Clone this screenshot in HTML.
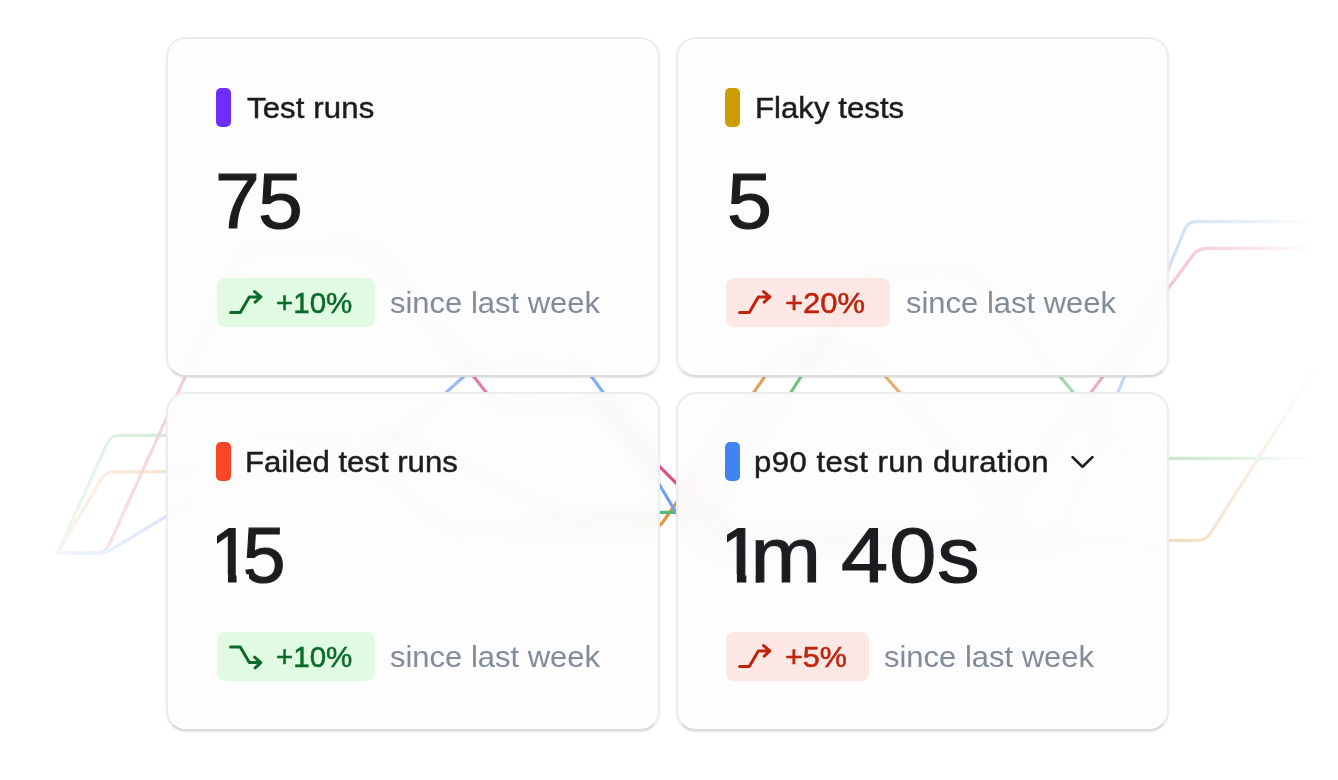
<!DOCTYPE html>
<html lang="en">
<head>
<meta charset="utf-8">
<title>Test analytics</title>
<style>
*{box-sizing:border-box;margin:0;padding:0}
html,body{width:1338px;height:780px;overflow:hidden;background:#fff}
body{position:relative;font-family:"Liberation Sans",Arial,sans-serif;color:#1a1c1e}
#bg{position:absolute;left:0;top:0;width:1338px;height:780px}
.card{position:absolute;width:494px;height:339.5px;border:2px solid #ededed;border-radius:20px;
  background:#fdfdfd;border-bottom-color:#dbdbdb;box-shadow:0 1px 1.5px rgba(0,0,0,.1)}
#glow{position:absolute;left:0;top:0;width:1338px;height:780px;filter:blur(10px);opacity:.16;clip-path:path('M186 39h454a18 18 0 0 1 18 18v299.5a18 18 0 0 1 -18 18h-454a18 18 0 0 1 -18 -18v-299.5a18 18 0 0 1 18 -18zM695.5 39h453.6a18 18 0 0 1 18 18v299.5a18 18 0 0 1 -18 18h-453.6a18 18 0 0 1 -18 -18v-299.5a18 18 0 0 1 18 -18zM186 393.5h454a18 18 0 0 1 18 18v299.5a18 18 0 0 1 -18 18h-454a18 18 0 0 1 -18 -18v-299.5a18 18 0 0 1 18 -18zM695.5 393.5h453.6a18 18 0 0 1 18 18v299.5a18 18 0 0 1 -18 18h-453.6a18 18 0 0 1 -18 -18v-299.5a18 18 0 0 1 18 -18z');pointer-events:none}
.c1{left:166px;top:37px}
.c2{left:675.5px;top:37px;width:493.6px}
.c3{left:166px;top:391.5px}
.c4{left:675.5px;top:391.5px;width:493.6px}
.pill{position:absolute;left:48.4px;top:49px;width:14.6px;height:39px;border-radius:5px}
.c2 .pill,.c4 .pill{left:48px}
.label{position:absolute;left:78px;top:51.5px;font-size:29.5px;line-height:34px;white-space:nowrap;color:#1a1c1e;-webkit-text-stroke:.45px #1a1c1e;transform:scaleX(1.055);transform-origin:0 50%;letter-spacing:.12px}
.num{position:absolute;top:118.4px;height:88px;padding-right:14px;font-size:77px;line-height:88px;white-space:pre;color:#1a1c1e;-webkit-text-stroke:1.15px #1a1c1e;transform-origin:0 70.7px}
.n15::first-letter{letter-spacing:-8.9px}
.n140::first-letter{letter-spacing:-11.5px}
.n15{-webkit-mask:linear-gradient(#000,#000) 8.5px 0/100% 63.5px no-repeat,linear-gradient(#000,#000) 18.7px 61px/8.6px 27px no-repeat,linear-gradient(#000,#000) 39.8px 61px/500px 27px no-repeat;mask:linear-gradient(#000,#000) 8.5px 0/100% 63.5px no-repeat,linear-gradient(#000,#000) 18.7px 61px/8.6px 27px no-repeat,linear-gradient(#000,#000) 39.8px 61px/500px 27px no-repeat}
.n140{-webkit-mask:linear-gradient(#000,#000) 9.5px 0/100% 63.5px no-repeat,linear-gradient(#000,#000) 18.7px 61px/8.6px 27px no-repeat,linear-gradient(#000,#000) 35.8px 61px/500px 27px no-repeat;mask:linear-gradient(#000,#000) 9.5px 0/100% 63.5px no-repeat,linear-gradient(#000,#000) 18.7px 61px/8.6px 27px no-repeat,linear-gradient(#000,#000) 35.8px 61px/500px 27px no-repeat}
.badge{position:absolute;left:49px;top:239px;height:49px;border-radius:8px}
.badge.g{background:#e1fbe2;color:#0a6a2a}
.badge.r{background:#fde8e5;color:#bf230c}
.badge svg{position:absolute;left:11px;top:8px;width:34px;height:34px;overflow:visible}
.badge .t{position:absolute;left:59px;top:7.8px;height:34px;font-size:29.5px;line-height:34px;white-space:nowrap;-webkit-text-stroke:.5px currentColor;transform-origin:0 50%}
.since{position:absolute;top:246.9px;font-size:29.5px;line-height:34px;white-space:nowrap;color:#818c98;transform:scaleX(1.05);transform-origin:0 50%;letter-spacing:0}
.c2>*,.c4>*{margin-left:-.3px}
.c3>*,.c4>*{margin-top:-.5px}
.chev{position:absolute;left:392px;top:58px;width:30px;height:22px;overflow:visible}
</style>
</head>
<body>
<svg id="bg" viewBox="0 0 1338 780">
  <defs>
    <linearGradient id="fade" x1="0" y1="0" x2="1338" y2="0" gradientUnits="userSpaceOnUse">
      <stop offset="0.0299" stop-color="#fff" stop-opacity="0"/>
      <stop offset="0.0426" stop-color="#fff" stop-opacity="0.1"/>
      <stop offset="0.0822" stop-color="#fff" stop-opacity="0.18"/>
      <stop offset="0.1420" stop-color="#fff" stop-opacity="0.3"/>
      <stop offset="0.3438" stop-color="#fff" stop-opacity="0.72"/>
      <stop offset="0.4484" stop-color="#fff" stop-opacity="0.87"/>
      <stop offset="0.5000" stop-color="#fff" stop-opacity="1"/>
      <stop offset="0.5904" stop-color="#fff" stop-opacity="0.82"/>
      <stop offset="0.6652" stop-color="#fff" stop-opacity="0.75"/>
      <stop offset="0.7922" stop-color="#fff" stop-opacity="0.55"/>
      <stop offset="0.8371" stop-color="#fff" stop-opacity="0.42"/>
      <stop offset="0.8894" stop-color="#fff" stop-opacity="0.3"/>
      <stop offset="0.9851" stop-color="#fff" stop-opacity="0"/>
    </linearGradient>
    <mask id="m" maskUnits="userSpaceOnUse" x="0" y="0" width="1338" height="780">
      <rect x="0" y="0" width="1338" height="780" fill="url(#fade)"/>
    </mask>
  </defs>
  <g mask="url(#m)" fill="none" stroke-width="3.2" stroke-linejoin="round" stroke-linecap="round">
    <path stroke="#e0913f" d="M57.7 553.0L100.8 479.7Q105.4 471.9 114.4 471.9L371.0 471.9Q380.0 471.9 386.8 477.8L438.2 523.1Q445.0 529.0 454.0 529.0L649.0 529.0Q658.0 529.0 663.2 521.6L776.8 359.4Q782.0 352.0 791.0 352.0L854.5 352.0Q863.5 352.0 869.5 358.7L1025.7 533.7Q1031.7 540.4 1040.7 540.4L1197.0 540.4Q1206.0 540.4 1210.8 532.8L1316.8 366.0"/>
    <path stroke="#5ab769" d="M57.7 553.0L107.0 443.6Q110.7 435.4 119.7 435.4L391.0 435.4Q400.0 435.4 408.1 439.3L551.9 508.5Q560.0 512.4 569.0 512.4L704.6 512.4Q713.6 512.4 718.5 504.8L864.7 277.6Q869.6 270.0 878.6 270.0L961.0 270.0Q970.0 270.0 975.8 276.9L1123.1 451.4Q1128.9 458.3 1137.9 458.3L1338.0 458.3"/>
    <path stroke="#dc4f89" d="M57.7 553.0L96.4 553.0Q105.4 553.0 109.1 544.8L239.8 255.9Q243.5 247.7 252.5 247.7L363.8 247.7Q372.8 247.7 378.4 254.8L487.4 393.9Q493.0 401.0 502.0 401.0L585.0 401.0Q594.0 401.0 600.4 407.4L723.6 530.6Q730.0 537.0 739.0 537.0L972.0 537.0Q981.0 537.0 986.4 529.8L1086.3 398.6Q1091.7 391.4 1097.1 384.2L1192.6 255.6Q1198.0 248.4 1207.0 248.4L1338.0 248.4"/>
    <path stroke="#6fa2ee" d="M57.7 553.0L96.4 553.0Q105.4 553.0 113.1 548.4L247.3 467.6Q255.0 463.0 264.0 463.0L358.8 463.0Q367.8 463.0 374.5 457.0L468.8 372.0Q475.5 366.0 484.5 366.0L574.6 366.0Q583.6 366.0 589.0 373.2L603.6 393.0Q609.0 400.2 613.6 407.9L672.6 506.8Q677.2 514.5 681.8 522.2L694.4 543.3Q699.0 551.0 708.0 551.0L1044.0 551.0Q1053.0 551.0 1056.4 542.7L1115.0 399.7Q1118.4 391.4 1121.8 383.1L1184.4 230.0Q1187.8 221.7 1196.8 221.7L1338.0 221.7"/>
  </g>
</svg>

<div class="card c1">
  <div class="pill" style="background:#6e2eff"></div>
  <div class="label" style="left:79.3px">Test runs</div>
  <div class="num" style="left:46.64px;transform:scale(1.046,1.02);letter-spacing:-1.8px">75</div>
  <div class="badge g" style="width:158px">
    <svg viewBox="0 0 34 34" fill="none" stroke="currentColor" stroke-width="3" stroke-linecap="round" stroke-linejoin="round"><path d="M2.6 26.5H12.3L21.3 11H32.4M26.6 5.6L32.8 11L27.2 16.2"/></svg>
    <span class="t">+10%</span>
  </div>
  <div class="since" style="left:222.4px">since last week</div>
</div>

<div class="card c2">
  <div class="pill" style="background:#cc9c00"></div>
  <div class="label" style="left:77.8px;letter-spacing:.04px">Flaky tests</div>
  <div class="num" style="left:49.87px;transform:scale(1.05,1.02)">5</div>
  <div class="badge r" style="width:164px">
    <svg viewBox="0 0 34 34" fill="none" stroke="currentColor" stroke-width="3" stroke-linecap="round" stroke-linejoin="round"><path d="M2.6 26.5H12.3L21.3 11H32.4M26.6 5.6L32.8 11L27.2 16.2"/></svg>
    <span class="t" style="left:58.4px;transform:scaleX(1.05)">+20%</span>
  </div>
  <div class="since" style="left:228.4px">since last week</div>
</div>

<div class="card c3">
  <div class="pill" style="background:#fa4528"></div>
  <div class="label" style="left:77.2px;letter-spacing:0">Failed test runs</div>
  <div class="num n15" style="left:40.9px;transform:scale(1,1.02)">15</div>
  <div class="badge g" style="width:158px">
    <svg viewBox="0 0 34 34" fill="none" stroke="currentColor" stroke-width="3" stroke-linecap="round" stroke-linejoin="round"><path d="M2.6 7H12.3L21.3 22.6H32.4M26.6 17.2L32.8 22.6L27.2 27.8"/></svg>
    <span class="t">+10%</span>
  </div>
  <div class="since" style="left:222.4px">since last week</div>
</div>

<div class="card c4">
  <div class="pill" style="background:#4184f3"></div>
  <div class="label" style="left:76.8px;letter-spacing:.43px">p90 test run duration</div>
  <svg class="chev" viewBox="0 0 30 22" fill="none" stroke="#1a1c1e" stroke-width="2.7" stroke-linecap="round" stroke-linejoin="round"><path d="M3.6 6.1L13.5 15.9L23.4 6.1"/></svg>
  <div class="num n140" style="left:38.73px;transform:scale(1.1,1.02);letter-spacing:.9px;word-spacing:-4.96px">1m 40s</div>
  <div class="badge r" style="width:143px">
    <svg viewBox="0 0 34 34" fill="none" stroke="currentColor" stroke-width="3" stroke-linecap="round" stroke-linejoin="round"><path d="M2.6 26.5H12.3L21.3 11H32.4M26.6 5.6L32.8 11L27.2 16.2"/></svg>
    <span class="t" style="left:58.3px;transform:scaleX(1.035)">+5%</span>
  </div>
  <div class="since" style="left:206.7px">since last week</div>
</div>
<svg id="glow" viewBox="0 0 1338 780">
  <g mask="url(#m)" fill="none" stroke-width="3.2" stroke-linejoin="round" stroke-linecap="round">
    <path stroke="#e0913f" d="M57.7 553.0L100.8 479.7Q105.4 471.9 114.4 471.9L371.0 471.9Q380.0 471.9 386.8 477.8L438.2 523.1Q445.0 529.0 454.0 529.0L649.0 529.0Q658.0 529.0 663.2 521.6L776.8 359.4Q782.0 352.0 791.0 352.0L854.5 352.0Q863.5 352.0 869.5 358.7L1025.7 533.7Q1031.7 540.4 1040.7 540.4L1197.0 540.4Q1206.0 540.4 1210.8 532.8L1316.8 366.0"/>
    <path stroke="#5ab769" d="M57.7 553.0L107.0 443.6Q110.7 435.4 119.7 435.4L391.0 435.4Q400.0 435.4 408.1 439.3L551.9 508.5Q560.0 512.4 569.0 512.4L704.6 512.4Q713.6 512.4 718.5 504.8L864.7 277.6Q869.6 270.0 878.6 270.0L961.0 270.0Q970.0 270.0 975.8 276.9L1123.1 451.4Q1128.9 458.3 1137.9 458.3L1338.0 458.3"/>
    <path stroke="#dc4f89" d="M57.7 553.0L96.4 553.0Q105.4 553.0 109.1 544.8L239.8 255.9Q243.5 247.7 252.5 247.7L363.8 247.7Q372.8 247.7 378.4 254.8L487.4 393.9Q493.0 401.0 502.0 401.0L585.0 401.0Q594.0 401.0 600.4 407.4L723.6 530.6Q730.0 537.0 739.0 537.0L972.0 537.0Q981.0 537.0 986.4 529.8L1086.3 398.6Q1091.7 391.4 1097.1 384.2L1192.6 255.6Q1198.0 248.4 1207.0 248.4L1338.0 248.4"/>
    <path stroke="#6fa2ee" d="M57.7 553.0L96.4 553.0Q105.4 553.0 113.1 548.4L247.3 467.6Q255.0 463.0 264.0 463.0L358.8 463.0Q367.8 463.0 374.5 457.0L468.8 372.0Q475.5 366.0 484.5 366.0L574.6 366.0Q583.6 366.0 589.0 373.2L603.6 393.0Q609.0 400.2 613.6 407.9L672.6 506.8Q677.2 514.5 681.8 522.2L694.4 543.3Q699.0 551.0 708.0 551.0L1044.0 551.0Q1053.0 551.0 1056.4 542.7L1115.0 399.7Q1118.4 391.4 1121.8 383.1L1184.4 230.0Q1187.8 221.7 1196.8 221.7L1338.0 221.7"/>
  </g>
</svg>
</body>
</html>
